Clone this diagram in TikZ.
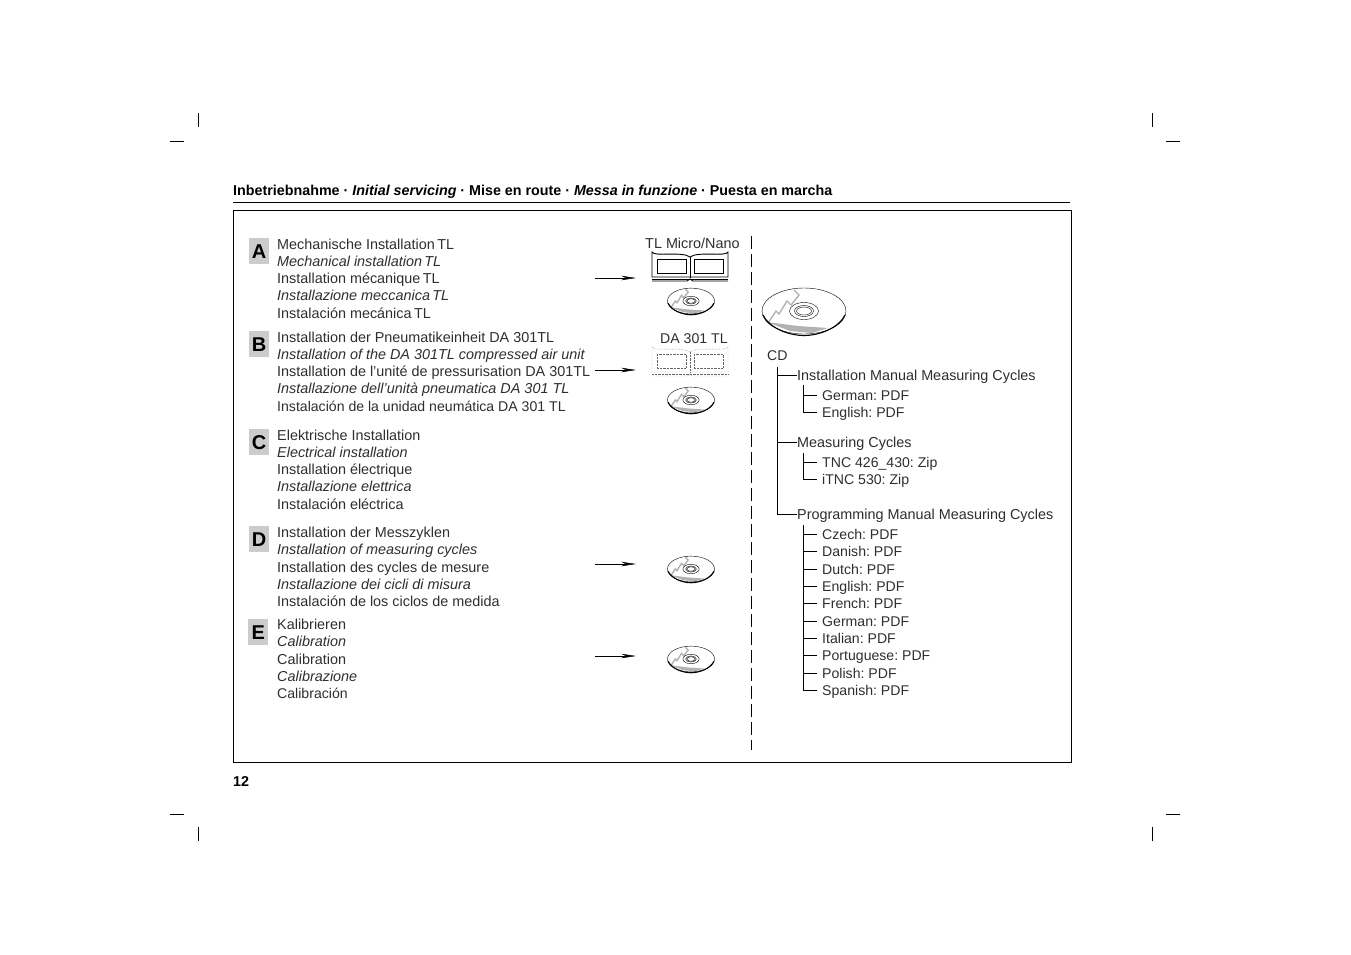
\documentclass[tikz,border=0pt]{standalone}
\usepackage{fontspec}
\setmainfont{Liberation Sans}
\usetikzlibrary{arrows.meta}
\definecolor{textgray}{gray}{0.18}
\definecolor{tabgray}{gray}{0.80}
\definecolor{discgray}{gray}{0.70}
\tikzset{
  wire/.style      = {line width=0.9pt},
  crop/.style      = {line width=0.9pt},
  txt/.style       = {anchor=west, inner sep=0pt, text height=10pt, text depth=0pt,
                      font=\fontsize{14.4}{16}\selectfont\frenchspacing, text=textgray},
  txtit/.style     = {txt, font=\fontsize{14.4}{16}\selectfont\frenchspacing\itshape},
  txtitem/.style   = {txt, font=\fontsize{14.1}{16}\selectfont\frenchspacing},
  head/.style      = {anchor=base west, inner sep=0pt,
                      font=\fontsize{14.3}{16}\selectfont\frenchspacing\bfseries},
  tab/.style       = {anchor=north west, fill=tabgray, inner sep=0pt, minimum width=20pt,
                      minimum height=26pt, font=\fontsize{20}{22}\selectfont\bfseries},
  pointer/.style   = {-{Stealth[length=15pt,width=4.5pt]}, line width=0.5pt},
  pics/disc/.style = {code={
    \fill[discgray] (-37,11) -- (-6,15) -- (24,17) -- (8,22) -- (-14,20) -- cycle;
    \draw[discgray,line width=1.4pt,line join=miter]
      (-36,12) -- (-28,0) -- (-25,3) -- (-17,-10) -- (-13,-6) -- (-5,-16) -- (-10,-21);
    \draw (0,0) ellipse[x radius=42, y radius=23];
    \draw[line width=1.1pt] (-41,4) .. controls (-34,18) and (-14,24.5) .. (0,24.5)
      .. controls (14,24.5) and (34,18) .. (41,4);
    \draw[fill=white] (0,0) ellipse[x radius=14.5, y radius=8.5];
    \draw[fill=white] (0,0) ellipse[x radius=9.5, y radius=5.5];
    \draw (0,0) ellipse[x radius=7.5, y radius=4];
  }},
  pics/book/.style = {code={
    \draw (-38,-14) .. controls (-36,-9) and (-8,-15) .. (0,-9) .. controls (8,-15) and (36,-9) .. (38,-14)
      -- (38,11) -- (-38,11) -- cycle;
    \draw (0,-9) -- (0,12);
    \draw (-33,-7) rectangle (-4,7);
    \draw (4,-7) rectangle (33,7);
    \draw (-38,13) -- (38,13);
    \draw (-38,15) -- (-3,15) -- (0,13) -- (3,15) -- (38,15);
  }},
}
\begin{document}
\begin{tikzpicture}[x=1pt,y=-1pt]
  \useasboundingbox (0,0) rectangle (1351,954);

  % crop marks
  \foreach \xv/\xh/\yv/\yh in {198/170/113/141, 1152/1166/113/141, 198/170/827/814, 1152/1166/827/814} {
    \draw[crop] (\xv,\yv) -- ++(0,14);
    \draw[crop] (\xh,\yh) -- ++(14,0);
  }

  % header and frame
  \node[head] (title) at (233,195)
    {Inbetriebnahme · \textit{Initial servicing} · Mise en route · \textit{Messa in funzione} · Puesta en marcha};
  \draw[line width=1.4pt] (233,202.5) -- (1070,202.5);
  \draw[line width=0.8pt] (233,210.5) rectangle (1071,762.5);
  \node[head] (page) at (233,786) {12};
  \draw[line width=1pt,dash pattern=on 13pt off 5pt] (751,236) -- (751,750);

  % section tabs
  \foreach \name/\xpos/\ypos in {A/249/238, B/249/331, C/249/429, D/249/526, E/248/619}
    \node[tab] (tab\name) at (\xpos,\ypos) {\name};

  % section texts
  \foreach \i/\ypos/\txtup/\txtlow in {
      1/244/Mechanische Installation\thinspace TL/Mechanical installation\thinspace TL,
      3/278/Installation mécanique\thinspace TL/Installazione meccanica\thinspace TL,
      6/337/Installation der Pneumatikeinheit DA 301TL/Installation of the DA 301TL compressed air unit,
      8/371/Installation de l’unité de pressurisation DA 301TL/Installazione dell’unità pneumatica DA 301 TL,
      11/435/Elektrische Installation/Electrical installation,
      13/469.5/Installation électrique/Installazione elettrica,
      16/532/Installation der Messzyklen/Installation of measuring cycles,
      18/567/Installation des cycles de mesure/Installazione dei cicli di misura,
      21/624/Kalibrieren/Calibration,
      23/659/Calibration/Calibrazione} {
    \node[txt] (line\i) at (277,\ypos) {\txtup};
    \node[txtit] (lineit\i) at (277,\ypos+17.3) {\txtlow};
  }
  \node[txt] (line5) at (277,313) {Instalación mecánica\thinspace TL};
  \node[txtitem] (line10) at (277,406) {Instalación de la unidad neumática DA 301 TL};
  \node[txt] (line15) at (277,504) {Instalación eléctrica};
  \node[txt] (line20) at (277,601) {Instalación de los ciclos de medida};
  \node[txtitem] (line25) at (277,693) {Calibración};

  % icons
  \node[txt] (micro) at (645,243) {TL Micro/Nano};
  \node[txtitem] (da) at (660,338) {DA 301 TL};
  \pic[line width=0.9pt] at (690,266) {book};
  \pic[densely dotted,black!60] at (690,361) {book};
  \foreach \ypos in {301,400,569,659}
    \pic[scale=0.56] at (691,\ypos) {disc};
  \pic at (804,311) {disc};

  % arrows
  \foreach \ypos in {278,370,564,656}
    \draw[pointer] (595,\ypos) -- (636,\ypos);

  % tree on the right
  \node[txtitem] (cd) at (767,355) {CD};
  \coordinate (trunk) at (777,367);
  \node[txt] (inst) at (797,375) {Installation Manual Measuring Cycles};
  \node[txt] (meas) at (797,442) {Measuring Cycles};
  \node[txt] (prog) at (797,514) {Programming Manual Measuring Cycles};
  \draw[wire] (trunk) |- (prog.west);
  \draw[wire] (trunk |- inst.west) -- (inst.west);
  \draw[wire] (trunk |- meas.west) -- (meas.west);

  \coordinate (tree1) at (803,385);
  \coordinate (tree2) at (803,453);
  \coordinate (tree3) at (803,525);
  \foreach \i/\tr/\ypos/\lab in {
      1/tree1/395/German: PDF, 2/tree1/412/English: PDF,
      3/tree2/462/TNC 426\_430: Zip, 4/tree2/479/iTNC 530: Zip,
      5/tree3/534/Czech: PDF, 6/tree3/551/Danish: PDF, 7/tree3/569/Dutch: PDF,
      8/tree3/586/English: PDF, 9/tree3/603/French: PDF, 10/tree3/621/German: PDF,
      11/tree3/638/Italian: PDF, 12/tree3/655/Portuguese: PDF, 13/tree3/673/Polish: PDF,
      14/tree3/690/Spanish: PDF} {
    \node[txtitem] (item\i) at (822,\ypos) {\lab};
    \coordinate (tick\i) at (817,\ypos);
    \draw[wire] (\tr) |- (tick\i);
  }
\end{tikzpicture}
\end{document}
